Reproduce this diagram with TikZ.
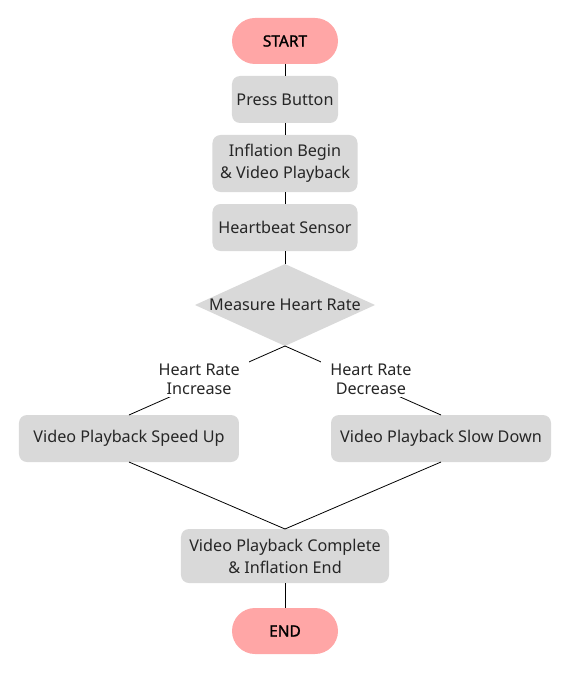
\documentclass[tikz,border=0pt]{standalone}
\usepackage{fontspec}
\setmainfont{Noto Sans}
\newfontfamily\termfont{Noto Sans}[FakeBold=1.3]
\usepackage{tikz}
\usetikzlibrary{shapes.geometric, positioning, calc}
\definecolor{termpink}{RGB}{255,166,166}
\definecolor{boxgray}{RGB}{217,217,217}
\definecolor{textgray}{RGB}{38,38,38}

\begin{document}
\begin{tikzpicture}[
    node distance=12pt,
    base/.style={inner sep=0pt, outer sep=0pt, align=center, text=textgray, font=\fontsize{16.2}{22}\selectfont},
    term/.style={base, rectangle, fill=termpink, rounded corners=23pt, minimum width=106pt, minimum height=46pt, text=black, font=\termfont\fontsize{15.5}{18}\selectfont},
    proc/.style={base, rectangle, fill=boxgray, rounded corners=8pt, minimum height=47pt},
    decision/.style={base, diamond, fill=boxgray, aspect=2.2, minimum width=180pt, minimum height=82pt},
    link/.style={draw=black, line width=0.8pt},
    edgelbl/.style={base, fill=white, minimum width=100pt, minimum height=36pt, font=\fontsize{16.2}{18.5}\selectfont}
]
\useasboundingbox (-285pt,41pt) rectangle (277pt,-633pt);

\node[term] (start) {START};
\node[proc, minimum width=106pt, below=of start] (press) {Press Button};
\node[proc, minimum width=145pt, minimum height=57pt, below=of press] (inflate) {Inflation Begin\\\& Video Playback};
\node[proc, minimum width=145pt, below=of inflate] (sensor) {Heartbeat Sensor};
\node[decision, below=13pt of sensor] (measure) {Measure Heart Rate};
\node[proc, minimum width=220pt, below=69pt of measure, xshift=-156pt] (speedup) {Video Playback Speed Up};
\node[proc, minimum width=220pt, below=69pt of measure, xshift=156pt] (slowdown) {Video Playback Slow Down};
\coordinate (merge) at ($(speedup.south)!0.5!(slowdown.south)$);
\node[proc, minimum width=208pt, minimum height=54pt, below=67pt of merge] (complete) {Video Playback Complete\\\& Inflation End};
\node[term, below=25pt of complete] (end) {END};

\draw[link] (start) -- (press);
\draw[link] (press) -- (inflate);
\draw[link] (inflate) -- (sensor);
\draw[link] (sensor) -- (measure);

\draw[link] (measure.south) -- node[edgelbl, pos=0.48, xshift=-11pt] {Heart Rate\\Increase} (speedup.north);
\draw[link] (measure.south) -- node[edgelbl, pos=0.48, xshift=11pt] {Heart Rate\\Decrease} (slowdown.north);

\draw[link] (speedup.south) -- (complete.north);
\draw[link] (slowdown.south) -- (complete.north);
\draw[link] (complete) -- (end);

\end{tikzpicture}
\end{document}
